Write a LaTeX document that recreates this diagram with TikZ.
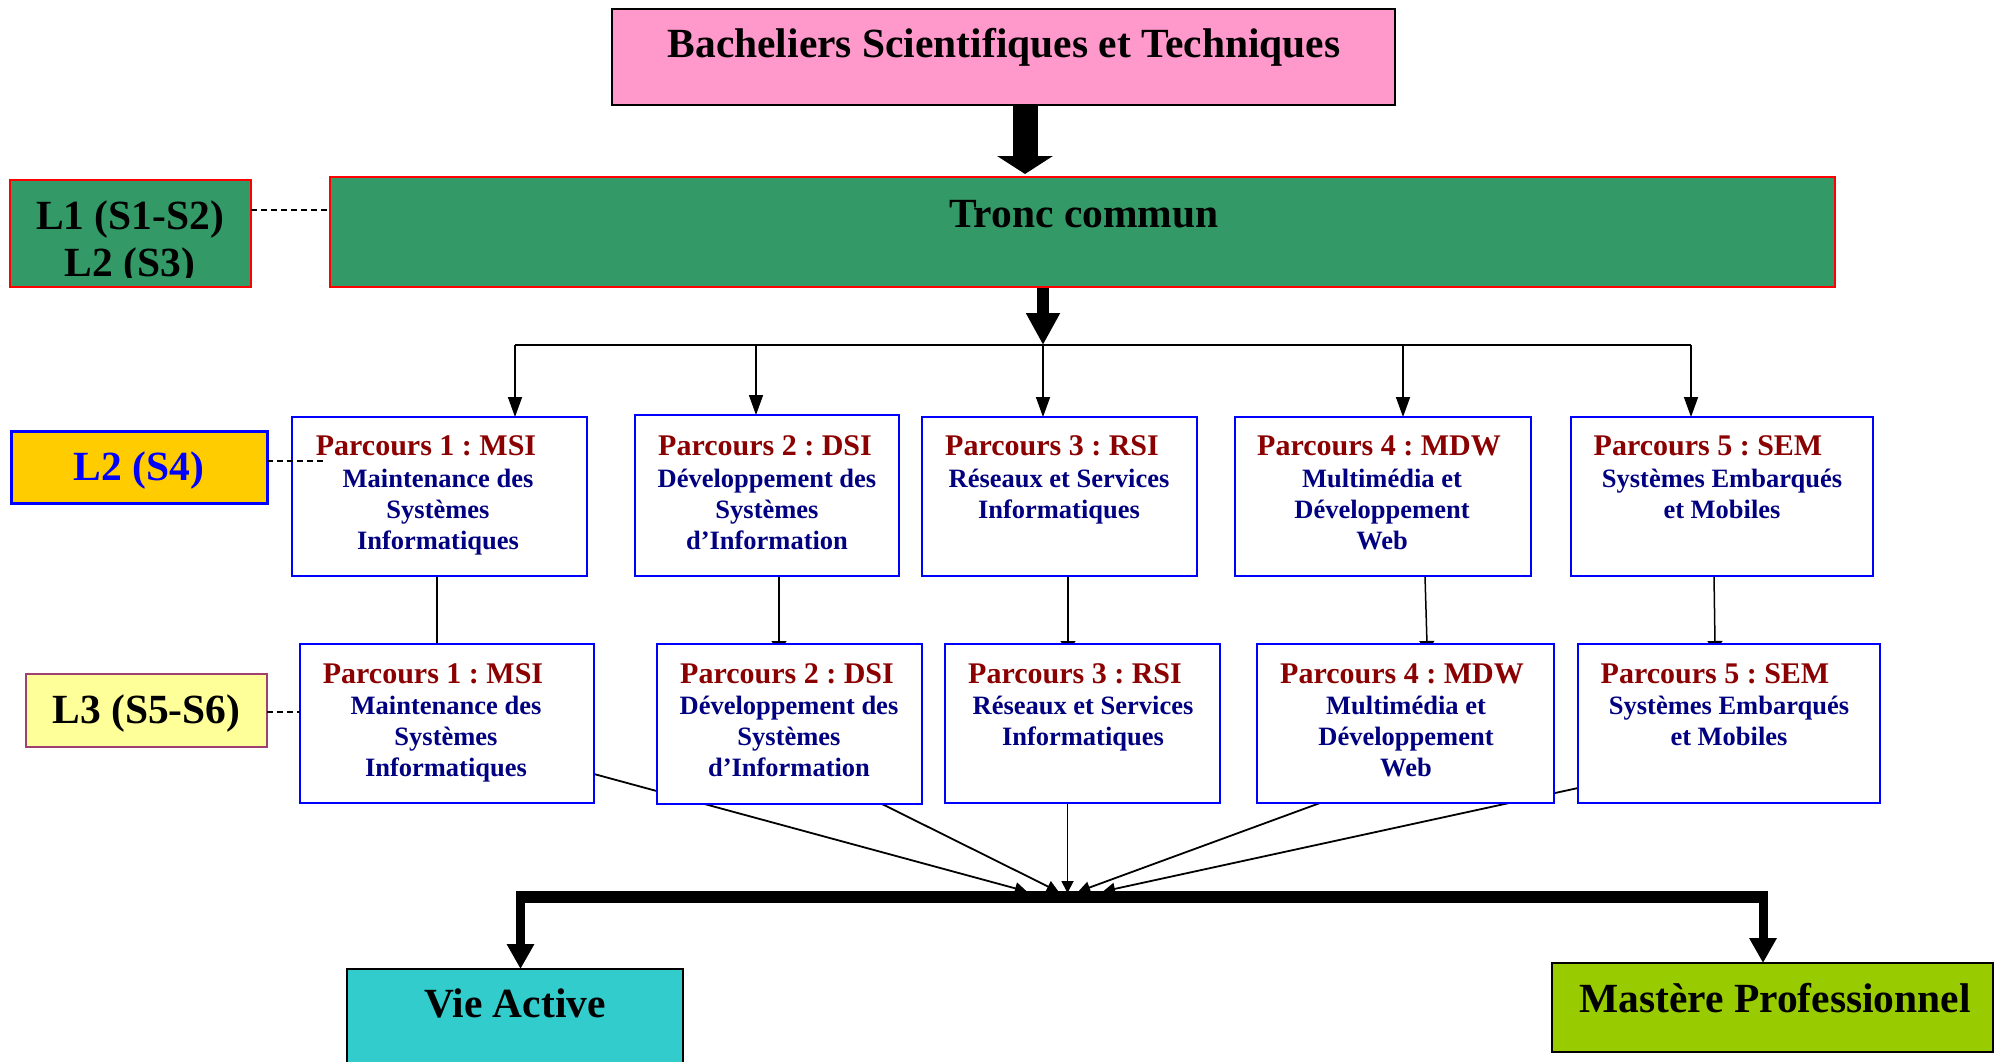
\documentclass[tikz,border=0pt]{standalone}
\usepackage{fontspec}
\setmainfont{Liberation Serif}
\usetikzlibrary{arrows.meta}
\frenchspacing
\pgfdeclarelayer{bg}
\pgfsetlayers{bg,main}
\definecolor{pinkf}{HTML}{FF99CC}
\definecolor{greenf}{HTML}{339966}
\definecolor{redb}{HTML}{FF0000}
\definecolor{orangef}{HTML}{FFCC00}
\definecolor{boxblue}{HTML}{0000FF}
\definecolor{lyellow}{HTML}{FFFF99}
\definecolor{maroonb}{HTML}{A04070}
\definecolor{cyanf}{HTML}{33CCCC}
\definecolor{limef}{HTML}{99CC00}
\definecolor{titlered}{HTML}{8B0000}
\definecolor{bodyblue}{HTML}{000080}
\newcommand\mkbox[6]{\node[#2, minimum width={#5-#3}, minimum height={#6-#4}] (#1) at ({(#3+#5)/2},{(#4+#6)/2}) {};}
\newcommand\bodylines[5]{\foreach \linetext [count=\idx from 0] in {#5} {\node[#2] (#1-\idx) at (#3,{#4+31*\idx}) {\linetext};}}
\tikzset{
  box/.style={draw, inner sep=0pt, outer sep=0pt},
  pbox/.style={box, draw=boxblue, line width=2.5pt, fill=white},
  bachbox/.style={box, draw=black, line width=2.5pt, fill=pinkf},
  greenbox/.style={box, draw=redb, line width=2pt, fill=greenf},
  l2box/.style={box, draw=boxblue, line width=3pt, fill=orangef},
  l3box/.style={box, draw=maroonb, line width=2pt, fill=lyellow},
  viebox/.style={box, draw=black, line width=2pt, fill=cyanf},
  mastbox/.style={box, draw=black, line width=2.5pt, fill=limef},
  ttl/.style={anchor=base, inner sep=0pt, text=titlered, font=\fontsize{30}{36}\selectfont\bfseries},
  bod/.style={anchor=base, inner sep=0pt, text=bodyblue, font=\fontsize{26.5}{31}\selectfont\bfseries},
  big/.style={anchor=base, inner sep=0pt, font=\fontsize{41.5}{47}\selectfont\bfseries},
  dashline/.style={line width=1.6pt, dash pattern=on 6pt off 4pt},
  bigarrow/.style={line width=25pt, -{Triangle[length=18pt,width=55pt]}, shorten >=3pt},
  midarrow/.style={line width=12pt, -{Triangle[length=32pt,width=32pt]}},
  thinarrow/.style={line width=1.6pt, -{Triangle[length=20pt,width=14pt]}},
  distline/.style={line width=2pt},
  plainlink/.style={line width=1.5pt},
  link/.style={line width=1.5pt, -{Triangle[length=11pt,width=15pt]}, shorten >=-8pt},
  conv/.style={line width=1.8pt, -{Triangle[length=12pt,width=12pt]}, shorten >=-2pt},
  fatline/.style={line width=12pt},
  downarrow/.style={line width=9pt, -{Triangle[length=25pt,width=26pt]}},
}
\begin{document}
\begin{tikzpicture}[x=1pt,y=-1pt]
\useasboundingbox (0,0) rectangle (1999,1062);
\clip (0,0) rectangle (1999,1062);
% ---- top
\mkbox{bach}{bachbox}{612}{9}{1395}{105}
\node[big] (bacht) at (1004,58) {Bacheliers Scientifiques et Techniques};
\mkbox{tronc}{greenbox}{330}{177}{1835}{287}
\node[big] (tronct) at (1084,227) {Tronc commun};
\mkbox{l1}{greenbox}{10}{180}{251}{287}
\begin{scope}
\clip (12,182) rectangle (249,277);
\node[big] (l1a) at (130,229) {L1 (S1-S2)};
\node[big] (l1b) at (130,276) {L2 (S3)};
\end{scope}
\mkbox{l2}{l2box}{11}{431}{267}{503}
\node[big, text=boxblue] (l2t) at (139,480) {L2 (S4)};
\mkbox{l3}{l3box}{26}{674}{267}{747}
\node[big] (l3t) at (146.5,723) {L3 (S5-S6)};
% ---- row 1
\mkbox{b1}{pbox}{292}{417}{587}{576}
\node[ttl] (b1t) at (426,455) {Parcours 1 : MSI};
\bodylines{b1}{bod}{438}{487}{Maintenance des,Systèmes,Informatiques}
\mkbox{b2}{pbox}{635}{415}{899}{576}
\node[ttl] (b2t) at (765,455) {Parcours 2 : DSI};
\bodylines{b2}{bod}{767}{487}{Développement des,Systèmes,d’Information}
\mkbox{b3}{pbox}{922}{417}{1197}{576}
\node[ttl] (b3t) at (1052,455) {Parcours 3 : RSI};
\bodylines{b3}{bod}{1059}{487}{Réseaux et Services,Informatiques}
\mkbox{b4}{pbox}{1235}{417}{1531}{576}
\node[ttl] (b4t) at (1379,455) {Parcours 4 : MDW};
\bodylines{b4}{bod}{1382}{487}{Multimédia et,Développement,Web}
\mkbox{b5}{pbox}{1571}{417}{1873}{576}
\node[ttl] (b5t) at (1708,455) {Parcours 5 : SEM};
\bodylines{b5}{bod}{1722}{487}{Systèmes Embarqués,et Mobiles}
% ---- row 2
\mkbox{c1}{pbox}{300}{644}{594}{803}
\node[ttl] (c1t) at (433,683) {Parcours 1 : MSI};
\bodylines{c1}{bod}{446}{714}{Maintenance des,Systèmes,Informatiques}
\mkbox{c2}{pbox}{657}{644}{922}{804}
\node[ttl] (c2t) at (787,683) {Parcours 2 : DSI};
\bodylines{c2}{bod}{789}{714}{Développement des,Systèmes,d’Information}
\mkbox{c3}{pbox}{945}{644}{1220}{803}
\node[ttl] (c3t) at (1075,683) {Parcours 3 : RSI};
\bodylines{c3}{bod}{1083}{714}{Réseaux et Services,Informatiques}
\mkbox{c4}{pbox}{1257}{644}{1554}{803}
\node[ttl] (c4t) at (1402,683) {Parcours 4 : MDW};
\bodylines{c4}{bod}{1406}{714}{Multimédia et,Développement,Web}
\mkbox{c5}{pbox}{1578}{644}{1880}{803}
\node[ttl] (c5t) at (1715,683) {Parcours 5 : SEM};
\bodylines{c5}{bod}{1729}{714}{Systèmes Embarqués,et Mobiles}
% ---- bottom
\mkbox{vie}{viebox}{347}{969}{683}{1100}
\node[big] (viet) at (515,1017) {Vie Active};
\mkbox{mast}{mastbox}{1552}{963}{1993}{1052}
\node[big] (mastt) at (1775,1012) {Mastère Professionnel};
% ---- coordinates
\coordinate (ax) at (1025,0);
\coordinate (d1) at (515,345);
\coordinate (d2) at (756,345);
\coordinate (d3) at (1043,345);
\coordinate (d4) at (1403,345);
\coordinate (d5) at (1691,345);
\coordinate (l1end) at (330,210);
\coordinate (l2end) at (325,461);
\coordinate (l3end) at (300,712);
\coordinate (k1) at (437,0);
\coordinate (k2) at (779,0);
\coordinate (k3) at (1068,0);
\coordinate (k4a) at (1425,0);
\coordinate (k4b) at (1427,0);
\coordinate (k5a) at (1714,0);
\coordinate (k5b) at (1715,0);
\coordinate (sAy) at (0,774);
\coordinate (sBx) at (882,0);
\coordinate (sDx) at (1320,0);
\coordinate (sEy) at (0,788);
\coordinate (t1) at (1025,891);
\coordinate (t2) at (1057,891);
\coordinate (t3) at (1067.5,891);
\coordinate (t4) at (1080,891);
\coordinate (t5) at (1105,891);
\coordinate (barL) at (516,897);
\coordinate (barR) at (1767,897);
\coordinate (vx) at (520.5,891);
\coordinate (mx) at (1763,891);
% ---- connectors
\begin{pgfonlayer}{bg}
\draw[bigarrow] (bach.south -| ax) -- (tronc.north -| ax);
\draw[midarrow] (tronc.south -| d3) -- (d3);
\draw[distline] (d1) -- (d5);
\draw[thinarrow] (d1) -- (b1.north -| d1);
\draw[thinarrow] (d2) -- (b2.north -| d2);
\draw[thinarrow] (d3) -- (b3.north -| d3);
\draw[thinarrow] (d4) -- (b4.north -| d4);
\draw[thinarrow] (d5) -- (b5.north -| d5);
\draw[plainlink] (b1.south -| k1) -- (c1.north -| k1);
\draw[link] (b2.south -| k2) -- (c2.north -| k2);
\draw[link] (b3.south -| k3) -- (c3.north -| k3);
\draw[link] (b4.south -| k4a) -- (c4.north -| k4b);
\draw[link] (b5.south -| k5a) -- (c5.north -| k5b);
\draw[conv] (c1.east |- sAy) -- (t1);
\draw[conv] (c2.south -| sBx) -- (t2);
\draw[conv] (c3.south -| t3) -- (t3);
\draw[conv] (c4.south -| sDx) -- (t4);
\draw[conv] (c5.west |- sEy) -- (t5);
\end{pgfonlayer}
\draw[dashline] (l1end -| l1.east) -- (l1end);
\draw[dashline] (l2end -| l2.east) -- (l2end);
\draw[dashline] (l3end -| l3.east) -- (l3end);
\draw[downarrow] (vx) -- (vie.north -| vx);
\draw[downarrow] (mx) -- (mast.north -| mx);
\draw[fatline] (barL) -- (barR);
\end{tikzpicture}
\end{document}
